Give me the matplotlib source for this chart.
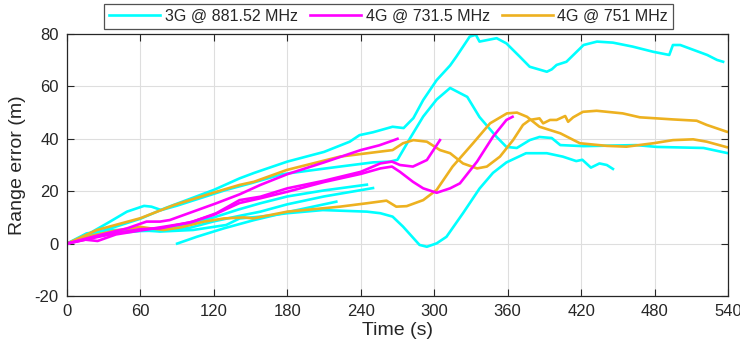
import matplotlib
matplotlib.use("Agg")
import matplotlib.pyplot as plt

plt.rcParams['font.family'] = ['Liberation Sans', 'DejaVu Sans']
plt.rcParams['axes.unicode_minus'] = False

# 3G @ 881.52 MHz runs (cyan)
c1_t = [0, 20, 40, 60, 80, 100, 120, 141, 153, 180, 210, 231, 239, 250, 266, 275, 283, 291, 302, 313,
        318, 329, 334, 337, 351, 359, 370, 378, 392, 396, 400, 408, 422, 433, 446, 462, 479, 492,
        495, 501, 523, 531, 536]
c1_y = [0, 3.5, 6.5, 9.5, 13.5, 17, 20.5, 24.9, 27, 31.3, 35, 38.9, 41.4, 42.5, 44.6, 44.1, 47.9, 54.8, 62.4, 68,
        71.3, 79, 79.7, 77.1, 78.4, 76.4, 71.3, 67.5, 65.6, 66.5, 68.2, 69.4, 75.8, 77.1, 76.7, 75.2, 73.2, 72,
        75.8, 75.8, 72, 70.1, 69.4]
c2_t = [0, 15, 33, 49, 63, 69, 77, 90, 110, 130, 150, 176, 200, 223, 250, 264, 270, 280, 291, 302, 313,
        327, 337, 351, 359, 367.5, 378, 386, 396, 403, 422, 465, 482, 520, 539]
c2_y = [0, 3, 7.8, 12.2, 14.4, 14.1, 12.8, 14.5, 17.5, 20.5, 23, 26.5, 28, 29.4, 31, 31.3, 32, 40, 48.5, 55, 59.4,
        56, 48.3, 40.7, 36.9, 36.5, 39.5, 40.7, 40.3, 37.6, 37.2, 37.6, 36.9, 36.5, 34.6]
c3_t = [0, 16, 35, 60, 76, 103, 130, 141, 158, 180, 209, 245, 256, 266, 274.5, 288, 294, 302, 310, 323.5,
        337, 348, 359, 375, 392, 405, 416, 421, 428, 435, 441, 446]
c3_y = [0, 3.9, 5.2, 5.2, 4.6, 5.2, 7.1, 9.6, 10.3, 11.6, 12.8, 12.2, 11.6, 10.3, 6.5, -0.5, -1.2, 0.1, 2.6, 11.6,
        21, 27, 31, 34.5, 34.5, 33.2, 31.5, 32, 29, 30.6, 30, 28.5]
c4_t = [0, 20, 40, 60, 80, 100, 120, 140, 158, 180, 210, 245]
c4_y = [0, 3, 4.5, 5.5, 6, 7.5, 10, 13, 15.4, 18, 20.3, 22.5]
c5_t = [0, 20, 40, 60, 80, 100, 120, 140, 158, 180, 210, 250]
c5_y = [0, 2.5, 4, 4.8, 5, 6, 8.5, 10.5, 12.2, 15, 18, 21.2]
c6_t = [90, 106, 128, 153, 180, 200, 220]
c6_y = [0, 2.6, 5.8, 9, 12, 14, 16]

# 4G @ 731.5 MHz runs (magenta)
m1_t = [0, 21, 49, 65, 76, 84, 103, 122, 141, 158, 180, 210, 240, 255, 266, 270]
m1_y = [0, 2.6, 5.8, 8.4, 8.4, 9, 12.2, 15.4, 18.8, 22.4, 26.5, 31, 35.7, 37.5, 39.3, 40]
m2_t = [0, 20, 40, 60, 76, 103, 122, 141, 158, 180, 210, 240, 256, 265.5, 272, 282.6, 294, 304.7]
m2_y = [0, 2, 4, 5.5, 5.8, 8.4, 11.6, 16.6, 17.9, 21.1, 24, 27.4, 30.6, 31.3, 30, 29.4, 31.9, 39.5]
m3_t = [0, 15, 25, 40, 60, 80, 100, 120, 141, 158, 180, 210, 240, 256, 265.5, 272, 282.6, 291, 302, 313,
        321, 335, 348, 359, 364]
m3_y = [0, 1.5, 1, 3.5, 5, 6.5, 8, 11, 15.5, 17.3, 19.8, 23.5, 26.6, 28.7, 29.4, 27.4, 23.6, 21.1, 19.4, 21.1,
        23, 31.3, 40.8, 47.2, 48.4]

# 4G @ 751 MHz runs (orange)
o1_t = [0, 24.5, 60, 87.4, 120, 141, 152.8, 179.5, 223, 255.7, 266, 274.5, 283, 294, 304.7, 313, 323.5, 335,
        343, 353.7, 364.4, 372.5, 378, 386, 389, 394.6, 400, 407, 409.4, 413.5, 421.5, 432.7, 454, 468,
        481.7, 495, 514.4, 522.6, 539]
o1_y = [0, 5.2, 9.7, 14.7, 19.5, 22.4, 23.6, 28.1, 33.2, 35.1, 35.7, 38.3, 39.5, 38.9, 35.7, 34.5, 30.6, 28.7,
        29.4, 33.2, 39.5, 45.3, 47.2, 47.8, 45.9, 47.2, 47.2, 48.7, 46.5, 48.2, 50.3, 50.7, 49.7, 48.2,
        47.8, 47.4, 46.9, 45.3, 42.7]
o2_t = [0, 20, 40, 60, 68.4, 79, 93, 112, 128, 144.6, 152, 180, 223, 245, 261, 269, 277.5, 291, 302, 315,
        331.7, 345.6, 359.4, 367.6, 375.8, 386, 403, 419, 441, 457, 479, 495, 511.5, 522.6, 539]
o2_y = [0, 3, 5, 6.4, 5.8, 5.2, 6.2, 8.4, 9.6, 10, 9.6, 12.2, 14.1, 15.4, 16.4, 14.1, 14.3, 16.6, 20.5, 29.4,
        38.3, 45.9, 49.7, 50, 48.4, 44.6, 42.1, 38.3, 37.3, 37, 38.3, 39.5, 39.8, 38.9, 36.8]

cyan = '#00FFFF'
magenta = '#FF00FF'
orange = '#EDB120'
dark = '#262626'

fig = plt.figure(figsize=(7.4, 3.56), dpi=100)
ax = fig.add_axes([0.0905, 0.1685, 0.8933, 0.736])

lw = 1.9
runs = [
    (c1_t, c1_y, cyan), (c2_t, c2_y, cyan), (c3_t, c3_y, cyan),
    (c4_t, c4_y, cyan), (c5_t, c5_y, cyan), (c6_t, c6_y, cyan),
    (o1_t, o1_y, orange), (o2_t, o2_y, orange),
    (m1_t, m1_y, magenta), (m2_t, m2_y, magenta), (m3_t, m3_y, magenta),
]
for t, y, col in runs:
    ax.plot(t, y, color=col, lw=lw, solid_joinstyle='round')

# legend handles
h1, = ax.plot([], [], color=cyan, lw=lw, label='3G @ 881.52 MHz')
h2, = ax.plot([], [], color=magenta, lw=lw, label='4G @ 731.5 MHz')
h3, = ax.plot([], [], color=orange, lw=lw, label='4G @ 751 MHz')

ax.set_xlim(0, 540)
ax.set_ylim(-20, 80)
ax.set_xticks(range(0, 541, 60))
ax.set_yticks(range(-20, 81, 20))
ax.grid(True, color='#dedede', lw=0.8)
ax.set_axisbelow(True)
ax.tick_params(direction='in', length=5, width=0.8, top=True, right=True,
               labelsize=12, colors=dark, pad=6)
for s in ax.spines.values():
    s.set_color(dark)
    s.set_linewidth(0.9)

ax.set_xlabel('Time (s)', fontsize=14, color=dark, labelpad=2)
ax.set_ylabel('Range error (m)', fontsize=14, color=dark, labelpad=6)

leg = fig.legend(handles=[h1, h2, h3], loc='center', bbox_to_anchor=(0.525, 0.9535),
                 ncol=3, fontsize=11.5, frameon=True, fancybox=False,
                 handlelength=3.2, columnspacing=0.75, handletextpad=0.3,
                 borderpad=0.3, borderaxespad=0)
leg.get_frame().set_edgecolor(dark)
leg.get_frame().set_linewidth(0.9)
for txt in leg.get_texts():
    txt.set_color(dark)

fig.savefig('out.png', dpi=100)
